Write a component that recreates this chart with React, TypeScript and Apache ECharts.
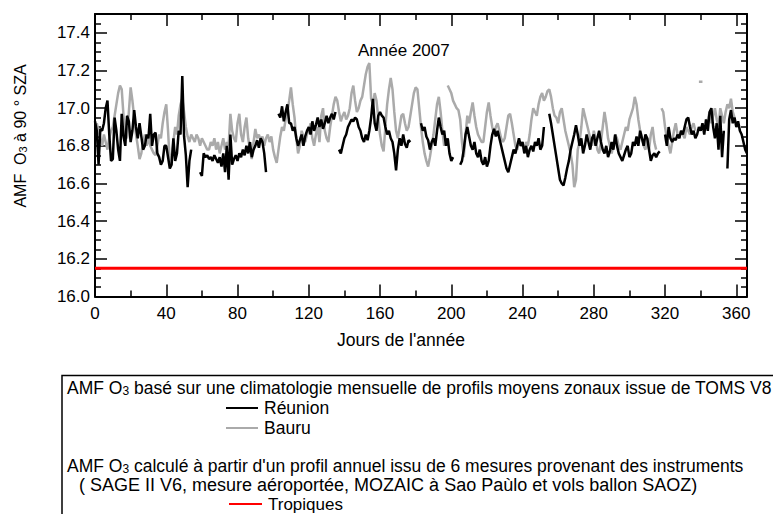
import React, { useEffect, useRef } from "react";
import * as echarts from "echarts";

// ---- Data (day of year 0..366), null = no measurement ----
const reunion: (number | null)[] = [
  16.93, 16.88, 16.70, 16.89, 16.88, 16.92, 17.00, 17.04, 16.86, 16.72,
  16.73, 16.95, 16.88, 16.78, 16.72, 16.97, 16.85, 16.80, 16.96, 16.93,
  16.82, 16.88, 16.99, 16.90, 16.84, 16.92, 16.85, 16.78, 16.80, 16.86,
  16.84, 16.97, 16.80, 16.86, 16.87, 16.76, 16.74, 16.70, 16.72, 16.80,
  16.80, 16.74, 16.68, 16.70, 16.84, 16.72, 16.76, 16.88, 16.86, 17.17,
  16.85, 16.75, 16.58, 16.72, 16.78, null, null, null, null, 16.66,
  16.64, 16.76, 16.74, 16.75, 16.73, 16.74, 16.72, 16.75, 16.73, 16.71,
  16.74, 16.69, 16.76, 16.66, 16.80, 16.62, 16.86, 16.70, 16.73, 16.75,
  16.72, 16.76, 16.74, 16.78, 16.75, 16.80, 16.76, 16.82, 16.74, 16.78,
  16.80, 16.83, 16.79, 16.84, 16.82, 16.76, 16.66, null, null, null,
  null, null, null, 16.97, 16.95, 17.01, 16.93, 16.98, 17.02, 16.92,
  16.92, 16.88, 16.90, 16.84, 16.80, 16.83, 16.86, 16.80, 16.85, 16.88,
  16.90, 16.86, 16.93, 16.88, 16.91, 16.95, 16.90, 16.94, 16.89, 16.92,
  16.96, 16.92, 16.95, 16.97, 16.94, 16.98, null, 16.78, 16.76, 16.80,
  16.84, 16.86, 16.90, 16.92, 16.94, 16.93, 16.95, 16.94, 16.90, 16.88,
  16.84, 16.82, 16.86, 16.83, 16.88, 16.95, 17.05, 16.92, 16.88, 16.96,
  16.98, 16.96, 16.95, 16.90, 16.86, 16.88, 16.84, 16.82, 16.76, 16.67,
  16.78, 16.84, 16.80, 16.86, 16.81, 16.79, 16.83, 16.82, null, null,
  null, null, null, 16.92, 16.88, 16.90, 16.85, 16.83, 16.78, 16.82,
  16.84, 16.80, 16.88, 16.95, 16.90, 16.86, 16.88, 16.80, 16.84, 16.76,
  16.72, 16.74, null, null, null, 16.70, 16.72, 16.78, 16.86, 16.90,
  16.85, 16.80, 16.78, 16.82, 16.76, 16.74, 16.78, 16.72, 16.70, 16.74,
  16.69, 16.72, 16.80, 16.86, 16.89, 16.85, 16.88, 16.84, 16.80, 16.76,
  16.72, 16.68, 16.66, 16.70, 16.74, 16.78, 16.76, 16.80, 16.84, 16.80,
  16.82, 16.76, 16.80, 16.74, 16.78, 16.80, 16.77, 16.82, 16.80, 16.84,
  16.78, 16.80, 16.90, null, null, 16.97, 16.92, 16.86, 16.80, 16.74,
  16.68, 16.62, 16.60, 16.59, 16.63, 16.68, 16.72, 16.78, 16.82, 16.86,
  16.91, 16.86, 16.80, 16.84, 16.76, 16.80, 16.86, 16.82, 16.78, 16.84,
  16.86, 16.80, 16.84, 16.88, 16.82, 16.78, 16.76, 16.80, 16.74, 16.77,
  16.82, 16.78, 16.86, 16.80, 16.76, 16.74, 16.72, 16.75, 16.78, 16.80,
  16.74, 16.76, 16.82, 16.80, 16.85, 16.80, 16.88, 16.84, 16.80, 16.86,
  16.84, 16.78, 16.72, 16.75, 16.76, 16.74, 16.76, 16.77, null, null,
  16.86, 16.80, 16.90, 16.84, 16.82, 16.84, 16.83, 16.86, 16.84, 16.88,
  16.86, 16.90, 16.94, 16.95, 16.90, 16.86, 16.88, 16.84, 16.86, 16.90,
  16.88, 16.92, 16.86, 16.94, 16.88, 16.98, 17.00, 16.90, 16.84, 16.92,
  16.78, 16.96, 16.74, 16.88, null, 16.68, 16.94, 16.99, 16.92, 16.95,
  16.90, 16.93, 16.88, 16.86, 16.82, 16.78, 16.76,
];

const bauru: (number | null)[] = [
  null, 16.92, 16.88, 16.84, 16.80, 16.86, 16.82, 16.78, 16.84, 16.88,
  16.90, 16.96, 17.02, 17.08, 17.12, 17.10, 16.96, 16.86, 16.84, 16.98,
  17.11, 17.04, 16.95, 16.86, 16.80, 16.73, 16.76, 16.82, 16.86, 16.80,
  16.84, 16.80, 16.78, 16.76, 16.75, 16.80, 16.86, 16.84, 16.92, 16.98,
  17.02, 16.88, 16.71, 16.74, 16.82, 16.90, 16.86, 16.96, 17.02, 17.05,
  16.98, 16.90, 16.85, 16.82, 16.86, 16.84, 16.82, 16.86, 16.84, 16.80,
  16.84, 16.82, 16.80, 16.78, 16.78, 16.82, 16.80, 16.84, 16.78, 16.82,
  16.76, 16.80, 16.84, 16.78, 16.82, 16.80, 16.97, 16.88, 16.84, 16.82,
  16.92, 16.97, 16.86, 16.82, 16.90, 16.95, 16.84, 16.78, 16.73, 16.82,
  16.89, 16.84, 16.86, 16.83, 16.85, 16.80, 16.84, 16.86, 16.82, 16.85,
  16.78, 16.74, 16.71, 16.78, 16.85, 16.90, 16.88, 16.94, 16.98, 17.04,
  17.11, 17.02, 16.95, 16.84, 16.76, 16.80, 16.88, 16.85, 16.82, 16.86,
  16.88, 16.92, 16.84, 16.80, 16.86, 16.90, 16.82, 16.96, 17.00, 16.88,
  16.84, 16.82, 16.90, 16.96, 17.02, 17.06, 17.04, 16.98, 16.93, 16.96,
  16.98, 16.94, 16.96, 17.00, 17.08, 17.12, 17.04, 16.98, 17.00, 17.04,
  17.06, 17.12, 17.18, 17.22, 17.24, 17.05, 17.02, 17.08, 17.04, 16.95,
  16.86, 16.80, 16.77, 16.90, 17.02, 17.10, 17.16, 17.10, 16.98, 16.88,
  16.84, 16.90, 16.96, 16.97, 16.92, 16.88, 16.90, 16.96, 17.02, 17.08,
  17.11, 17.10, 17.00, 16.90, 16.82, 16.76, 16.72, 16.69, 16.74, 16.80,
  16.86, 16.94, 17.02, 17.06, 16.98, 16.88, 16.80, null, 17.12, 17.10,
  17.08, 17.04, 17.02, 17.00, 16.99, 16.94, 16.82, 16.74, 16.86, 16.96,
  16.92, 16.98, 17.03, 16.96, 16.90, 16.86, 16.84, 16.82, 16.82, 16.90,
  16.98, 17.03, 16.96, 16.90, 16.86, 16.90, 16.92, 16.88, 16.84, 16.82,
  16.84, 16.90, 16.96, 16.97, 16.92, 16.86, 16.80, 16.78, 16.82, 16.80,
  16.80, 16.78, 16.82, 16.80, 16.86, 16.94, 17.00, 16.98, 16.96, 17.02,
  17.06, 17.08, 17.04, 17.06, 17.09, 17.10, 17.06, 17.00, 16.96, 16.95,
  16.92, 16.98, 17.00, 16.94, 16.88, 16.84, 16.80, 16.76, 16.70, 16.58,
  16.62, 16.78, 16.82, 16.90, 17.00, 16.96, 16.92, 16.88, 16.84, 16.80,
  16.88, 16.84, 16.78, 16.76, 16.82, 16.90, 16.98, 16.92, 16.84, 16.80,
  16.76, 16.80, 16.86, 16.84, 16.80, 16.78, 16.82, 16.86, 16.90, 16.88,
  16.94, 16.97, 17.00, 17.06, 17.02, 16.94, 16.88, 16.85, 16.80, 16.78,
  16.84, 16.78, 16.86, 16.90, 16.82, 16.78, null, null, 17.00, 16.98,
  16.90, 16.84, 16.80, 16.76, 16.82, 16.88, 16.92, 16.86, 16.84, 16.88,
  16.86, 16.84, 16.90, 16.88, 16.86, 16.90, 16.92, 16.88, null, 17.14,
  17.14, 17.14, null, 16.90, 16.94, 16.98, 16.92, 16.96, 17.00, 16.94,
  16.90, 17.00, 16.96, 16.92, 16.98, 17.02, 17.00, 17.05, 16.98, 16.95,
  null, null, null, null, null, null, null,
];

const tropiques = 16.15;

const xRange = [0, 366];
const yRange = [16.0, 17.5];
const xInterval = 40;
const yInterval = 0.2;

const FONT = '"Liberation Sans", Arial, sans-serif';

const toSeries = (arr: (number | null)[]) =>
  arr.map((v, i) => [i, v === null ? "-" : v]);

const richO3 = (size: number) => ({
  a: { fontSize: size, fontFamily: FONT, fill: "#000", verticalAlign: "bottom", lineHeight: size },
  s: { fontSize: Math.round(size * 0.7), fontFamily: FONT, fill: "#000", verticalAlign: "bottom", lineHeight: size },
});

export default function App() {
  const ref = useRef<HTMLDivElement>(null);

  useEffect(() => {
    if (!ref.current) return;
    const chart = echarts.init(ref.current, null, { renderer: "svg" });

    const axisCommon = {
      axisLine: { onZero: false, lineStyle: { color: "#000", width: 2 } },
      axisTick: { inside: true, length: 12, lineStyle: { color: "#000", width: 1.5 } },
      splitLine: { show: false },
    };

    const labelStyle = {
      color: "#000",
      fontSize: 17,
      fontFamily: FONT,
    };

    const LEG = 17.5;

    const option: any = {
      animation: false,
      grid: { left: 95, top: 14, width: 652, height: 282.5, containLabel: false },
      xAxis: [
        {
          type: "value",
          min: xRange[0],
          max: xRange[1],
          interval: xInterval,
          position: "bottom",
          ...axisCommon,
          minorTick: { show: true, splitNumber: 2, length: 6, lineStyle: { color: "#000", width: 1.5 } },
          axisLabel: { ...labelStyle, margin: 8, showMaxLabel: false },
        },
        {
          type: "value",
          min: xRange[0],
          max: xRange[1],
          interval: xInterval,
          position: "top",
          ...axisCommon,
          minorTick: { show: true, splitNumber: 2, length: 6, lineStyle: { color: "#000", width: 1.5 } },
          axisLabel: { show: false },
        },
      ],
      yAxis: [
        {
          type: "value",
          min: yRange[0],
          max: yRange[1],
          interval: yInterval,
          position: "left",
          ...axisCommon,
          minorTick: { show: true, splitNumber: 4, length: 6, lineStyle: { color: "#000", width: 1.5 } },
          axisLabel: {
            ...labelStyle,
            margin: 5,
            showMaxLabel: false,
            formatter: (v: number) => v.toFixed(1),
          },
        },
        {
          type: "value",
          min: yRange[0],
          max: yRange[1],
          interval: yInterval,
          position: "right",
          ...axisCommon,
          minorTick: { show: true, splitNumber: 4, length: 6, lineStyle: { color: "#000", width: 1.5 } },
          axisLabel: { show: false },
        },
      ],
      series: [
        {
          type: "line",
          name: "Bauru",
          data: toSeries(bauru),
          showSymbol: false,
          symbol: "none",
          connectNulls: false,
          lineStyle: { color: "#aaaaaa", width: 2.5 },
          z: 2,
        },
        {
          type: "line",
          name: "Réunion",
          data: toSeries(reunion),
          showSymbol: false,
          symbol: "none",
          connectNulls: false,
          lineStyle: { color: "#000000", width: 2.5 },
          z: 3,
        },
        {
          type: "line",
          name: "Tropiques",
          data: [
            [xRange[0], tropiques],
            [xRange[1], tropiques],
          ],
          showSymbol: false,
          symbol: "none",
          lineStyle: { color: "#ff0000", width: 3 },
          z: 4,
        },
      ],
      graphic: [
        {
          type: "text",
          x: 358,
          y: 50,
          style: { text: "Année 2007", fontSize: 17, fontFamily: FONT, fill: "#000", verticalAlign: "middle" },
        },
        {
          type: "text",
          x: 401,
          y: 340,
          style: { text: "Jours de l'année", fontSize: 17.5, fontFamily: FONT, fill: "#000", align: "center", verticalAlign: "middle" },
        },
        {
          type: "text",
          x: 19,
          y: 136,
          rotation: Math.PI / 2,
          style: {
            text: "{a|AMF  O}{s|3}{a| à 90 ° SZA}",
            align: "center",
            verticalAlign: "middle",
            fill: "#000",
            rich: {
              a: { fontSize: 16, fontFamily: FONT, fill: "#000", verticalAlign: "bottom", lineHeight: 18 },
              s: { fontSize: 11, fontFamily: FONT, fill: "#000", verticalAlign: "bottom", lineHeight: 18 },
            },
          },
        },
        // legend box
        {
          type: "rect",
          shape: { x: 62, y: 375.5, width: 800, height: 200 },
          style: { fill: "none", stroke: "#000", lineWidth: 1.5 },
        },
        {
          type: "text",
          x: 67,
          y: 388,
          style: {
            text: "{a|AMF O}{s|3}{a| basé sur une climatologie mensuelle de profils moyens zonaux issue de TOMS V8}",
            verticalAlign: "middle",
            rich: richO3(LEG),
          },
        },
        { type: "line", shape: { x1: 226, y1: 408, x2: 258, y2: 408 }, style: { stroke: "#000", lineWidth: 2 } },
        {
          type: "text",
          x: 264,
          y: 408,
          style: { text: "Réunion", fontSize: LEG, lineHeight: 17, fontFamily: FONT, fill: "#000", verticalAlign: "middle" },
        },
        { type: "line", shape: { x1: 226, y1: 428, x2: 258, y2: 428 }, style: { stroke: "#aaaaaa", lineWidth: 2 } },
        {
          type: "text",
          x: 264,
          y: 428,
          style: { text: "Bauru", fontSize: LEG, lineHeight: 17, fontFamily: FONT, fill: "#000", verticalAlign: "middle" },
        },
        {
          type: "text",
          x: 67,
          y: 466,
          style: {
            text: "{a|AMF O}{s|3}{a| calculé à partir d'un profil annuel issu de 6 mesures provenant des instruments}",
            verticalAlign: "middle",
            rich: richO3(LEG),
          },
        },
        {
          type: "text",
          x: 79,
          y: 484.5,
          style: {
            text: "( SAGE II V6, mesure aéroportée, MOZAIC à Sao Paùlo et vols ballon SAOZ)",
            fontSize: 18,
            lineHeight: 16,
            fontFamily: FONT,
            fill: "#000",
            verticalAlign: "middle",
          },
        },
        { type: "line", shape: { x1: 229, y1: 504, x2: 262, y2: 504 }, style: { stroke: "#ff0000", lineWidth: 2 } },
        {
          type: "text",
          x: 268,
          y: 504,
          style: { text: "Tropiques", fontSize: 17, lineHeight: 16, fontFamily: FONT, fill: "#000", verticalAlign: "middle" },
        },
      ],
    };

    chart.setOption(option);
    return () => chart.dispose();
  }, []);

  return (
    <div
      ref={ref}
      style={{ position: "absolute", left: 0, top: 0, width: 773, height: 514, background: "#fff" }}
    />
  );
}
